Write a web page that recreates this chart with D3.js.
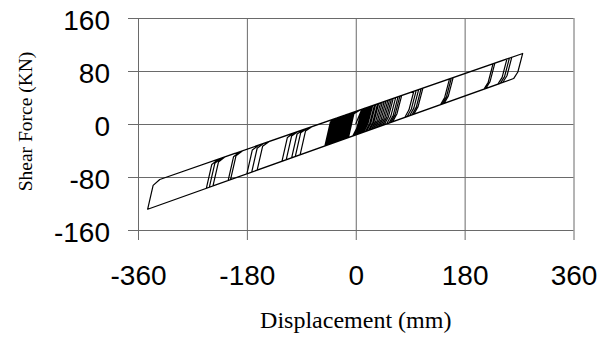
<!DOCTYPE html>
<html>
<head>
<meta charset="utf-8">
<script src="https://cdn.jsdelivr.net/npm/d3@7"></script>
<style>
  body { margin: 0; background: #fff; }
  svg { display: block; }
</style>
</head>
<body>
<div id="chart"></div>
<script>
// axis ticks
const xTicks = [-360, -180, 0, 180, 360];
const yTicks = [-160, -80, 0, 80, 160];

// hysteresis path: [displacement mm, shear kN]
// each row = peak, unloading knee, unloading end, valley, reloading knee, reloading end
const smallCycles = [
  [[0, 0]],
  [[10, 22.2], [2, -5.8], [-5, -18.1], [-12, -20.4], [-3, 15.6], [8, 21.5]],
  [[13, 23.1], [5, -4.9], [-2, -17.2], [-15, -21.4], [-6, 14.6], [5, 20.6]],
  [[16, 24.1], [8, -3.9], [1, -16.2], [-18, -22.4], [-9, 13.6], [2, 19.6]],
  [[20, 25.3], [12, -2.7], [5, -14.9], [-21, -23.3], [-12, 12.7], [-1, 18.7]],
  [[24, 26.6], [16, -1.4], [9, -13.6], [-25, -24.7], [-16, 11.3], [-5, 17.4]],
  [[28, 27.9], [20, -0.1], [13, -12.3], [-28, -25.6], [-19, 10.4], [-8, 16.5]],
  [[33, 29.5], [25, 1.5], [18, -10.6], [-32, -26.9], [-23, 9.1], [-12, 15.2]],
  [[38, 31.0], [30, 3.0], [23, -9.0], [-36, -28.2], [-27, 7.8], [-16, 13.9]],
  [[44, 32.9], [36, 4.9], [29, -7.0], [-40, -29.5], [-31, 6.5], [-20, 12.7]],
  [[50, 34.9], [42, 6.9], [35, -5.1], [-44, -30.8], [-35, 5.2], [-24, 11.4]],
  [[56, 36.8], [48, 8.8], [41, -3.1], [-47, -31.8], [-38, 4.2], [-27, 10.4]],
  [[62, 38.7], [54, 10.7], [47, -1.2], [-50, -32.8], [-41, 3.2], [-30, 9.5]],
  [[70, 41.2], [62, 13.2], [55, 1.4], [-46, -31.5], [-37, 4.5], [-26, 10.8]],
  [[76, 43.1], [68, 15.1], [61, 3.4], [-49, -32.5], [-40, 3.5], [-29, 9.8]]
];

const smallRepeat = [
  [[12, 22.8], [4, -5.2], [-3, -17.5], [-13, -20.7], [-4, 15.3], [7, 21.2]],
  [[15, 23.8], [7, -4.2], [0, -16.5], [-17, -22.0], [-8, 14.0], [3, 20.0]],
  [[18, 24.7], [10, -3.3], [3, -15.5], [-20, -23.0], [-11, 13.0], [0, 19.0]],
  [[22, 26.0], [14, -2.0], [7, -14.2], [-23, -24.0], [-14, 12.0], [-3, 18.0]],
  [[26, 27.2], [18, -0.8], [11, -12.9], [-27, -25.3], [-18, 10.7], [-7, 16.8]],
  [[31, 28.8], [23, 0.8], [16, -11.3], [-30, -26.3], [-21, 9.7], [-10, 15.8]],
  [[36, 30.4], [28, 2.4], [21, -9.7], [-34, -27.6], [-25, 8.4], [-14, 14.6]],
  [[41, 32.0], [33, 4.0], [26, -8.0], [-38, -28.9], [-29, 7.1], [-18, 13.3]],
  [[47, 33.9], [39, 5.9], [32, -6.1], [-42, -30.2], [-33, 5.8], [-22, 12.0]],
  [[53, 35.8], [45, 7.8], [38, -4.1], [-45, -31.2], [-36, 4.8], [-25, 11.1]],
  [[59, 37.7], [51, 9.7], [44, -2.2], [-48, -32.1], [-39, 3.9], [-28, 10.1]],
  [[66, 39.9], [58, 11.9], [51, 0.1], [-48, -32.1], [-39, 3.9], [-28, 10.1]],
  [[73, 42.1], [65, 14.1], [58, 2.4], [-51, -33.1], [-42, 2.9], [-31, 9.2]]
];

const midCycles = [
  [[96, 49.4], [88, 21.4], [81, 9.9], [-92, -46.5], [-83, -10.5], [-72, -3.8]],
  [[100, 50.7], [92, 22.7], [85, 11.2], [-100, -49.1], [-91, -13.1], [-80, -6.4]],
  [[104, 52.0], [96, 24.0], [89, 12.5], [-106, -51.1], [-97, -15.1], [-86, -8.3]],
  [[108, 53.2], [100, 25.2], [93, 13.8], [-115, -54.0], [-106, -18.0], [-95, -11.1]],
  [[111, 54.2], [103, 26.2], [96, 14.8], [-122, -56.3], [-113, -20.3], [-102, -13.3]]
];

const largeCycles = [
  [[155, 68.1], [147, 40.1], [140, 29.1], [-163, -69.6], [-154, -33.6], [-143, -26.3]],
  [[158, 69.1], [150, 41.1], [143, 30.1], [-172, -72.6], [-163, -36.6], [-152, -29.2]],
  [[161, 70.0], [153, 42.0], [146, 31.1], [-180, -75.2], [-171, -39.2], [-160, -31.7]],
  [[227, 91.0], [219, 63.0], [212, 52.6], [-207, -84.0], [-198, -48.0], [-187, -40.3]],
  [[230, 91.9], [222, 63.9], [215, 53.6], [-211, -85.3], [-202, -49.3], [-191, -41.5]],
  [[250, 98.3], [242, 70.3], [235, 60.1], [-236, -93.4], [-227, -57.4], [-216, -49.5]],
  [[254, 99.5], [246, 71.5], [239, 61.4], [-242, -95.4], [-233, -59.4], [-222, -51.4]],
  [[258, 100.8], [250, 72.8], [243, 62.7], [-247, -97.0], [-238, -61.0], [-227, -53.0]]
];

const lastCycle = [
  [[276, 106.5], [268, 78.5], [261, 68.6], [-344, -128.6], [-335, -92.6], [-324, -83.7], [-200, -44.4]]
];

const points = [...smallCycles, ...smallRepeat, ...midCycles, ...largeCycles, ...lastCycle].flat();

const width = 602, height = 339;
const margin = { top: 18, right: 28.5, bottom: 109, left: 138 };

const svg = d3.select('#chart')
  .append('svg')
  .attr('width', width)
  .attr('height', height);

const x = d3.scaleLinear()
  .domain([-360, 360])
  .range([margin.left, width - margin.right]);

const y = d3.scaleLinear()
  .domain([-160, 160])
  .range([height - margin.bottom, margin.top]);

const tickOut = 10;
const fmt = d => String(d); // plain hyphen minus like the original

// x axis: grid lines reach from below the plot up to the top
const xAxis = svg.append('g')
  .attr('transform', `translate(0, ${y(-160) + tickOut})`)
  .call(d3.axisBottom(x).tickValues(xTicks).tickSize(-(y(-160) - y(160) + tickOut)).tickFormat(fmt));
xAxis.select('.domain').remove();
xAxis.selectAll('line').attr('stroke', '#6a6a6a');
xAxis.selectAll('text')
  .attr('y', 45)
  .attr('dy', null)
  .attr('fill', '#000')
  .style('font-family', '"Liberation Sans", Arial, sans-serif')
  .style('font-size', '28px');

// y axis
const yAxis = svg.append('g')
  .attr('transform', `translate(${x(-360) - tickOut}, 0)`)
  .call(d3.axisLeft(y).tickValues(yTicks).tickSize(-(x(360) - x(-360) + tickOut)).tickFormat(fmt));
yAxis.select('.domain').remove();
yAxis.selectAll('line').attr('stroke', '#6a6a6a');
yAxis.selectAll('text')
  .attr('x', -18)
  .attr('dy', null)
  .attr('y', 11)
  .attr('fill', '#000')
  .style('font-family', '"Liberation Sans", Arial, sans-serif')
  .style('font-size', '28px');

const line = d3.line()
  .x(d => x(d[0]))
  .y(d => y(d[1]));

svg.append('path')
  .datum(points)
  .attr('d', line)
  .attr('fill', 'none')
  .attr('stroke', '#000')
  .attr('stroke-width', 1.2)
  .attr('stroke-linejoin', 'round');

// axis titles
svg.append('text')
  .attr('x', (x(-360) + x(360)) / 2)
  .attr('y', 328)
  .attr('text-anchor', 'middle')
  .style('font-family', '"Liberation Serif", "Times New Roman", serif')
  .style('font-size', '24px')
  .text('Displacement (mm)');

svg.append('text')
  .attr('transform', 'translate(32, 121.5) rotate(-90)')
  .attr('text-anchor', 'middle')
  .style('font-family', '"Liberation Serif", "Times New Roman", serif')
  .style('font-size', '19.5px')
  .text('Shear Force (KN)');
</script>
</body>
</html>
